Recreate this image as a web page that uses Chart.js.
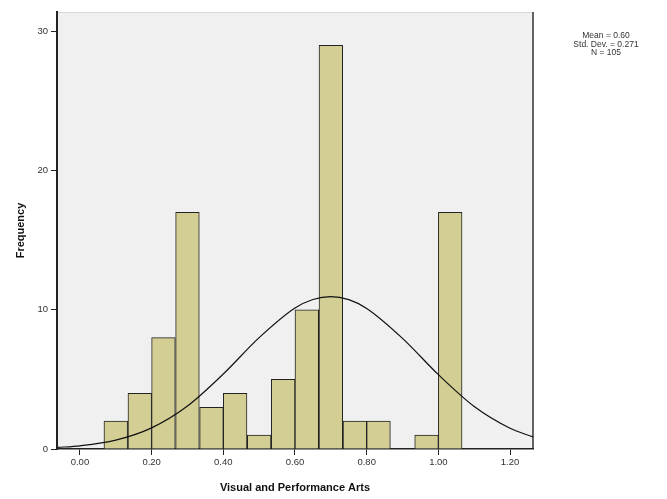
<!DOCTYPE html>
<html>
<head>
<meta charset="utf-8">
<script src="https://cdn.jsdelivr.net/npm/chart.js@4"></script>
<style>
  body { margin: 0; background: #fff; }
  canvas { display: block; }
</style>
</head>
<body>
<canvas id="chart" width="667" height="499"></canvas>
<script>
// histogram bins (centers) and counts
const binCenters = [0.100, 0.167, 0.233, 0.300, 0.367, 0.433, 0.500, 0.567, 0.633, 0.700, 0.767, 0.833, 0.900, 0.967, 1.033];
const counts = [2, 4, 8, 17, 3, 4, 1, 5, 10, 29, 2, 2, 0, 1, 17];

// normal curve
const curveX = [-0.064, 0.0, 0.1, 0.2, 0.3, 0.4, 0.5, 0.6, 0.65, 0.7, 0.75, 0.8, 0.9, 1.0, 1.1, 1.2, 1.264];
const curveY = [0.11, 0.23, 0.64, 1.52, 3.09, 5.39, 8.0, 10.13, 10.74, 10.95, 10.73, 10.1, 7.95, 5.34, 3.05, 1.49, 0.87];

const xTicks = [0.0, 0.2, 0.4, 0.6, 0.8, 1.0, 1.2];
const yTicks = [0, 10, 20, 30];

const statLines = ['Mean = 0.60', 'Std. Dev. = 0.271', 'N = 105'];

/*
* fundo cinza da área do gráfico + borda direita
*/
const plotBg = {
  id: 'plotBg',
  beforeDraw(chart) {
    const { ctx, chartArea: a } = chart;
    ctx.save();
    ctx.fillStyle = '#f0f0f0';
    ctx.fillRect(a.left, a.top, a.right - a.left, a.bottom - a.top);
    ctx.strokeStyle = '#d8d8d8';
    ctx.lineWidth = 1;
    ctx.beginPath();
    ctx.moveTo(a.left, a.top + 0.5);
    ctx.lineTo(a.right, a.top + 0.5);
    ctx.stroke();
    ctx.strokeStyle = '#333';
    ctx.lineWidth = 1.5;
    ctx.beginPath();
    ctx.moveTo(a.right, a.top);
    ctx.lineTo(a.right, a.bottom);
    ctx.stroke();
    ctx.restore();
  },
  afterDraw(chart) {
    const { ctx } = chart;
    ctx.save();
    ctx.fillStyle = '#333';
    ctx.font = '8.5px "Liberation Sans", Arial, sans-serif';
    ctx.textAlign = 'center';
    ctx.textBaseline = 'middle';
    statLines.forEach((t, i) => ctx.fillText(t, 606, 36 + i * 8.5));
    ctx.restore();
  }
};

const ctx = document.getElementById('chart');

new Chart(ctx, {
  type: 'bar',
  data: {
    datasets: [
      {
        type: 'line',
        data: curveX.map((x, i) => ({ x: x, y: curveY[i] })),
        borderColor: '#111',
        borderWidth: 1.2,
        pointRadius: 0,
        cubicInterpolationMode: 'monotone',
        fill: false,
        order: 0
      },
      {
        type: 'bar',
        data: binCenters.map((x, i) => ({ x: x, y: counts[i] })),
        backgroundColor: '#d3ce94',
        borderColor: '#222',
        borderWidth: 1,
        barPercentage: 1,
        categoryPercentage: 1,
        order: 1
      }
    ]
  },
  plugins: [plotBg],
  options: {
    responsive: false,
    animation: false,
    devicePixelRatio: 1,
    layout: { padding: { left: 0, top: 12, right: 134, bottom: 0 } },
    plugins: {
      legend: { display: false },
      tooltip: { enabled: false }
    },
    scales: {
      x: {
        type: 'linear',
        offset: false,
        min: -0.064,
        max: 1.264,
        afterBuildTicks: s => { s.ticks = xTicks.map(v => ({ value: v })); },
        afterFit: s => { s.height = 50; },
        ticks: {
          color: '#333',
          font: { size: 9.5, family: '"Liberation Sans", Arial, sans-serif' },
          padding: 2,
          maxRotation: 0,
          callback: v => v.toFixed(2)
        },
        grid: { display: true, offset: false, drawOnChartArea: false, drawTicks: true, tickLength: 6, color: '#222' },
        border: { display: true, color: '#222', width: 1.5 },
        title: {
          display: true,
          text: 'Visual and Performance Arts',
          color: '#111',
          font: { size: 11, weight: 'bold', family: '"Liberation Sans", Arial, sans-serif' },
          padding: { top: 6 }
        }
      },
      y: {
        min: 0,
        max: 31.4,
        afterBuildTicks: s => { s.ticks = yTicks.map(v => ({ value: v })); },
        afterFit: s => { s.width = 57; },
        ticks: {
          color: '#333',
          font: { size: 9.5, family: '"Liberation Sans", Arial, sans-serif' },
          padding: 3
        },
        grid: { display: true, offset: false, drawOnChartArea: false, drawTicks: true, tickLength: 6, color: '#222' },
        border: { display: true, color: '#222', width: 2 },
        title: {
          display: true,
          text: 'Frequency',
          color: '#111',
          font: { size: 11, weight: 'bold', family: '"Liberation Sans", Arial, sans-serif' },
          padding: { top: 14, bottom: 4 }
        }
      }
    }
  }
});
</script>
</body>
</html>
